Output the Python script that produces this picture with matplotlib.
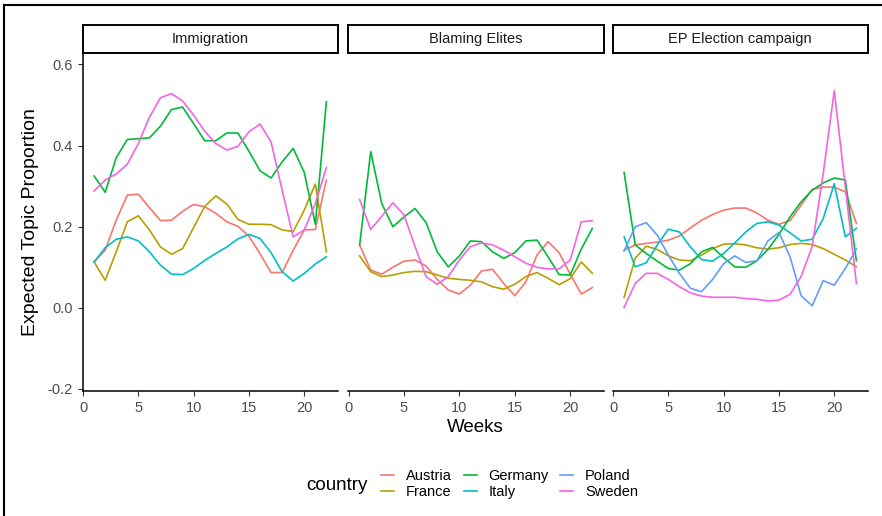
import matplotlib
matplotlib.use('Agg')
import matplotlib.pyplot as plt
from matplotlib.lines import Line2D

plt.rcParams['font.family'] = ['Liberation Sans', 'DejaVu Sans']

weeks = list(range(1, 23))
topics = ['Immigration', 'Blaming Elites', 'EP Election campaign']
countries = ['Austria', 'France', 'Germany', 'Italy', 'Poland', 'Sweden']
colors = ['#F8766D', '#B79F00', '#00BA38', '#00BFC4', '#619CFF', '#F564E3']

# Immigration
imm_austria = [0.113, 0.142, 0.216, 0.278, 0.280, 0.247, 0.215, 0.216, 0.238, 0.255, 0.249,
               0.233, 0.212, 0.201, 0.177, 0.133, 0.087, 0.087, 0.142, 0.192, 0.193, 0.315]
imm_france = [0.113, 0.068, 0.138, 0.212, 0.227, 0.192, 0.150, 0.132, 0.146, 0.198, 0.250,
              0.276, 0.256, 0.218, 0.206, 0.206, 0.205, 0.192, 0.188, 0.241, 0.305, 0.138]
imm_germany = [0.325, 0.285, 0.370, 0.415, 0.417, 0.419, 0.448, 0.489, 0.495, 0.454, 0.412,
               0.412, 0.431, 0.431, 0.386, 0.338, 0.320, 0.360, 0.393, 0.334, 0.206, 0.508]
imm_italy = [0.113, 0.148, 0.169, 0.175, 0.165, 0.138, 0.105, 0.083, 0.082, 0.097, 0.117,
             0.134, 0.150, 0.170, 0.181, 0.171, 0.136, 0.089, 0.066, 0.085, 0.108, 0.126]
imm_sweden = [0.288, 0.315, 0.330, 0.354, 0.405, 0.470, 0.518, 0.528, 0.510, 0.475, 0.435,
              0.405, 0.389, 0.398, 0.434, 0.453, 0.409, 0.290, 0.175, 0.192, 0.257, 0.346]

# Blaming Elites
eli_austria = [0.155, 0.093, 0.083, 0.100, 0.115, 0.118, 0.103, 0.070, 0.044, 0.034, 0.056,
               0.091, 0.095, 0.060, 0.030, 0.064, 0.130, 0.163, 0.136, 0.083, 0.034, 0.050]
eli_france = [0.128, 0.089, 0.077, 0.081, 0.087, 0.090, 0.089, 0.081, 0.073, 0.070, 0.068,
              0.064, 0.052, 0.046, 0.058, 0.077, 0.087, 0.073, 0.057, 0.072, 0.113, 0.085]
eli_germany = [0.155, 0.385, 0.257, 0.200, 0.224, 0.245, 0.210, 0.138, 0.101, 0.128, 0.165,
               0.163, 0.138, 0.122, 0.136, 0.165, 0.167, 0.126, 0.082, 0.081, 0.145, 0.196]
eli_sweden = [0.267, 0.193, 0.226, 0.259, 0.229, 0.151, 0.077, 0.058, 0.077, 0.118, 0.151,
              0.160, 0.155, 0.142, 0.126, 0.110, 0.100, 0.096, 0.096, 0.118, 0.212, 0.215]

# EP Election campaign
ep_austria = [0.142, 0.155, 0.159, 0.162, 0.167, 0.177, 0.197, 0.216, 0.230, 0.241, 0.246,
              0.246, 0.234, 0.216, 0.206, 0.215, 0.253, 0.292, 0.298, 0.297, 0.286, 0.208]
ep_france = [0.026, 0.122, 0.152, 0.144, 0.128, 0.118, 0.116, 0.130, 0.146, 0.157, 0.158,
             0.155, 0.148, 0.145, 0.148, 0.156, 0.159, 0.156, 0.146, 0.132, 0.118, 0.101]
ep_germany = [0.334, 0.155, 0.134, 0.115, 0.097, 0.093, 0.109, 0.138, 0.149, 0.124, 0.101,
              0.100, 0.116, 0.144, 0.181, 0.224, 0.261, 0.290, 0.308, 0.320, 0.315, 0.116]
ep_italy = [0.175, 0.101, 0.111, 0.155, 0.194, 0.187, 0.150, 0.119, 0.115, 0.134, 0.160,
            0.187, 0.208, 0.212, 0.204, 0.185, 0.165, 0.169, 0.220, 0.306, 0.175, 0.196]
ep_poland = [0.140, 0.200, 0.210, 0.179, 0.130, 0.085, 0.048, 0.040, 0.070, 0.109, 0.128,
             0.112, 0.116, 0.165, 0.186, 0.126, 0.030, 0.005, 0.067, 0.056, 0.097, 0.145]
ep_sweden = [0.001, 0.060, 0.085, 0.085, 0.070, 0.052, 0.037, 0.029, 0.026, 0.026, 0.026,
             0.023, 0.021, 0.017, 0.019, 0.033, 0.077, 0.151, 0.331, 0.535, 0.298, 0.060]

panels = [
    {'Austria': imm_austria, 'France': imm_france, 'Germany': imm_germany,
     'Italy': imm_italy, 'Sweden': imm_sweden},
    {'Austria': eli_austria, 'France': eli_france, 'Germany': eli_germany,
     'Sweden': eli_sweden},
    {'Austria': ep_austria, 'France': ep_france, 'Germany': ep_germany,
     'Italy': ep_italy, 'Poland': ep_poland, 'Sweden': ep_sweden},
]

W, H = 882, 516
fig = plt.figure(figsize=(W / 100, H / 100), dpi=100)


def rect(l, r, t, b):
    # pixel box -> figure fraction
    return [l / W, 1 - b / H, (r - l) / W, (b - t) / H]


panel_x = [(82.5, 338), (348, 604), (612.5, 868)]
p_top, p_bot = 53.5, 391
s_top = 25

grey = '#4D4D4D'
for i, (l, r) in enumerate(panel_x):
    ax = fig.add_axes(rect(l, r, p_top, p_bot))
    for c, col in zip(countries, colors):
        if c in panels[i]:
            ax.plot(weeks, panels[i][c], color=col, lw=1.2)
    ax.set_xlim(-0.05, 23.05)
    ax.set_ylim(-0.205, 0.627)
    ax.set_xticks([0, 5, 10, 15, 20])
    ax.set_yticks([-0.2, 0.0, 0.2, 0.4, 0.6])
    ax.set_yticklabels(['-0.2', '0.0', '0.2', '0.4', '0.6'])
    ax.tick_params(colors='#333333', labelcolor=grey, labelsize=10.5, length=3.5, width=0.8)
    for s in ['top', 'right']:
        ax.spines[s].set_visible(False)
    ax.spines['bottom'].set_linewidth(1.1)
    ax.spines['left'].set_linewidth(1.1)
    if i > 0:
        ax.spines['left'].set_visible(False)
        ax.tick_params(axis='y', left=False, labelleft=False)

    sx = fig.add_axes(rect(l, r, s_top, p_top - 1))
    sx.set_xticks([])
    sx.set_yticks([])
    for s in sx.spines.values():
        s.set_linewidth(1.4)
    sx.text(0.5, 0.5, topics[i], ha='center', va='center', fontsize=10.5, color='#1A1A1A',
            transform=sx.transAxes)

fig.text(475 / W, 1 - 428 / H, 'Weeks', ha='center', va='center', fontsize=13.5)
fig.text(31 / W, 1 - 222 / H, 'Expected Topic Proportion', ha='center', va='center',
         fontsize=14, rotation=90)

handles = [Line2D([0], [0], color=col, lw=1.2) for col in colors]
fig.legend(handles, countries, ncol=3, loc='center left', frameon=False,
           bbox_to_anchor=(374 / W, 1 - 484 / H), fontsize=10.5, handlelength=0.9,
           handletextpad=0.8, columnspacing=0.8, labelspacing=0.15, borderpad=0)
fig.text(337 / W, 1 - 485 / H, 'country', ha='center', va='center', fontsize=13.5)

# screenshot frame
fig.add_artist(Line2D([4 / W, 4 / W], [0, 1 - 5 / H], color='black', lw=1.5))
fig.add_artist(Line2D([4 / W, 1], [1 - 5 / H, 1 - 5 / H], color='black', lw=1.5))

fig.savefig('out.png', dpi=100)
